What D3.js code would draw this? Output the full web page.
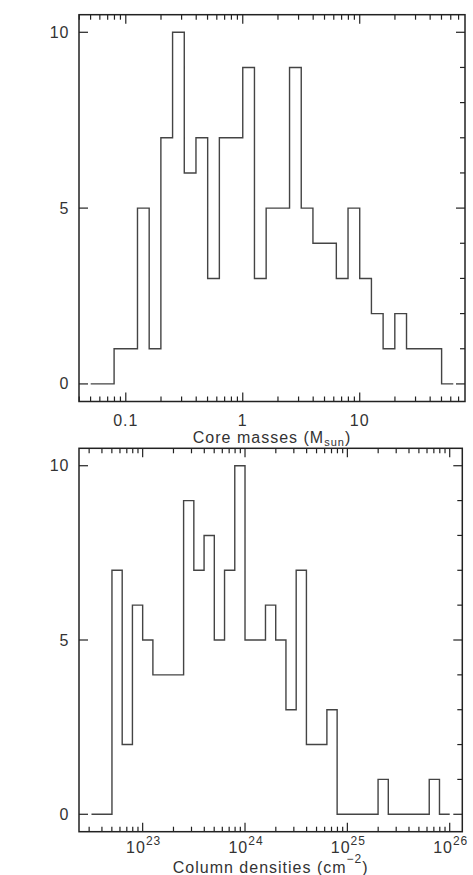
<!DOCTYPE html>
<html>
<head>
<meta charset="utf-8">
<script src="https://cdn.jsdelivr.net/npm/d3@7"></script>
<style>
  body { margin: 0; background: #fff; }
  text { font-family: "Liberation Sans", Arial, sans-serif; fill: #333; }
</style>
</head>
<body>
<script>
// bin edges are log10 values, 0.1 dex bins
var massEdges = [-1.3, -1.2, -1.1, -1.0, -0.9, -0.8, -0.7, -0.6, -0.5, -0.4, -0.3, -0.2, -0.1, 0.0,
  0.1, 0.2, 0.3, 0.4, 0.5, 0.6, 0.7, 0.8, 0.9, 1.0, 1.1, 1.2, 1.3, 1.4, 1.5, 1.6, 1.7, 1.8];
var massCounts = [0, 0, 1, 1, 5, 1, 7, 10, 6, 7, 3, 7, 7, 9, 3, 5, 5, 9, 5, 4, 4, 3, 5, 3, 2, 1, 2, 1, 1, 1, 0];

var colEdges = [22.5, 22.6, 22.7, 22.8, 22.9, 23.0, 23.1, 23.2, 23.3, 23.4, 23.5, 23.6, 23.7, 23.8, 23.9,
  24.0, 24.1, 24.2, 24.3, 24.4, 24.5, 24.6, 24.7, 24.8, 24.9, 25.0, 25.1, 25.2, 25.3, 25.4, 25.5,
  25.6, 25.7, 25.8, 25.9, 26.0];
var colCounts = [0, 0, 7, 2, 6, 5, 4, 4, 4, 9, 7, 8, 5, 7, 10, 5, 5, 6, 5, 3, 7, 2, 2, 3, 0, 0, 0, 0, 1, 0, 0, 0, 0, 1, 0];

var massTicks = [0.1, 1, 10];
var massTickLabels = ['0.1', '1', '10'];
var colTicks = [1e23, 1e24, 1e25, 1e26];
var colTickExp = ['23', '24', '25', '26'];
var countTicks = [0, 5, 10];

var width = 473, height = 875;
var frameColor = '#222';
var histColor = '#444';
var majorLen = 9, minorLen = 5;

var svg = d3.select('body')
  .append('svg')
    .attr('width', width)
    .attr('height', height);

svg.append('rect')
  .attr('width', width)
  .attr('height', height)
  .attr('fill', '#fff');

function drawPanel(p) {
  var x = p.x, y = p.y;
  var g = svg.append('g');
  var x0 = x.range()[0], x1 = x.range()[1];
  var yb = y.range()[0], yt = y.range()[1];

  // histogram as steps
  var pts = p.edges.map(function(e, i) {
    return [Math.pow(10, e), p.counts[Math.min(i, p.counts.length - 1)]];
  });
  var line = d3.line()
    .x(function(d) { return x(d[0]); })
    .y(function(d) { return y(d[1]); })
    .curve(d3.curveStepAfter);
  g.append('path')
    .attr('d', line(pts))
    .attr('fill', 'none')
    .attr('stroke', histColor)
    .attr('stroke-width', 1.4);

  // x ticks, top and bottom, inward
  var major = x.ticks().filter(function(t) {
    var l = Math.log10(t); return Math.abs(l - Math.round(l)) < 1e-9;
  });
  x.ticks().forEach(function(t) {
    var len = major.indexOf(t) >= 0 ? majorLen : minorLen;
    var xx = x(t);
    g.append('line').attr('x1', xx).attr('x2', xx).attr('y1', yb).attr('y2', yb - len)
      .attr('stroke', frameColor).attr('stroke-width', 1.2);
    g.append('line').attr('x1', xx).attr('x2', xx).attr('y1', yt).attr('y2', yt + len)
      .attr('stroke', frameColor).attr('stroke-width', 1.2);
  });

  // y ticks: left major only, right major + minor
  d3.range(0, 11).forEach(function(v) {
    var isMajor = countTicks.indexOf(v) >= 0;
    var yy = y(v);
    if (isMajor) {
      g.append('line').attr('x1', x0).attr('x2', x0 + majorLen).attr('y1', yy).attr('y2', yy)
        .attr('stroke', frameColor).attr('stroke-width', 1.2);
    }
    g.append('line').attr('x1', x1).attr('x2', x1 - (isMajor ? majorLen : minorLen))
      .attr('y1', yy).attr('y2', yy)
      .attr('stroke', frameColor).attr('stroke-width', 1.2);
  });

  g.selectAll('.ylab')
    .data(countTicks)
    .enter()
    .append('text')
      .attr('x', x0 - 9.5)
      .attr('y', function(d) { return y(d) + 5.5; })
      .attr('text-anchor', 'end')
      .attr('font-size', 16)
      .attr('letter-spacing', 1)
      .text(function(d) { return d; });

  // frame
  g.append('rect')
    .attr('x', x0).attr('y', yt)
    .attr('width', x1 - x0).attr('height', yb - yt)
    .attr('fill', 'none')
    .attr('stroke', frameColor)
    .attr('stroke-width', 1.5);

  p.labels(g, x, yb);
}

var xMass = d3.scaleLog().domain([Math.pow(10, -1.4), Math.pow(10, 1.9)]).range([79, 465]);
var yMass = d3.scaleLinear().domain([-0.5, 10.5]).range([401.5, 14.7]);

drawPanel({
  x: xMass, y: yMass, edges: massEdges, counts: massCounts,
  labels: function(g, x, yb) {
    g.selectAll('.xlab')
      .data(massTicks)
      .enter()
      .append('text')
        .attr('x', function(d) { return x(d); })
        .attr('y', 426)
        .attr('text-anchor', 'middle')
        .attr('font-size', 16)
        .attr('letter-spacing', 1)
        .text(function(d, i) { return massTickLabels[i]; });
    var t = g.append('text')
      .attr('x', 272)
      .attr('y', 442.7)
      .attr('text-anchor', 'middle')
      .attr('font-size', 16)
      .attr('letter-spacing', 1);
    t.append('tspan').text('Core masses (M');
    t.append('tspan').attr('dy', 3).attr('font-size', 11).text('sun');
    t.append('tspan').attr('dy', -3).text(')');
  }
});

var xCol = d3.scaleLog().domain([Math.pow(10, 22.378), Math.pow(10, 26.123)]).range([79, 462.3]);
var yCol = d3.scaleLinear().domain([-0.5, 10.5]).range([831.7, 448.3]);

drawPanel({
  x: xCol, y: yCol, edges: colEdges, counts: colCounts,
  labels: function(g, x, yb) {
    colTicks.forEach(function(d, i) {
      var t = g.append('text')
        .attr('x', x(d) + 1)
        .attr('y', 853.3)
        .attr('text-anchor', 'middle')
        .attr('font-size', 16)
        .attr('letter-spacing', 1);
      t.append('tspan').text('10');
      t.append('tspan').attr('dy', -8.5).attr('font-size', 12).text(colTickExp[i]);
    });
    var t = g.append('text')
      .attr('x', 270.7)
      .attr('y', 873)
      .attr('text-anchor', 'middle')
      .attr('font-size', 16)
      .attr('letter-spacing', 1);
    t.append('tspan').text('Column densities (cm');
    t.append('tspan').attr('dy', -10).attr('font-size', 12).text('\u22122');
    t.append('tspan').attr('dy', 10).text(')');
  }
});
</script>
</body>
</html>
